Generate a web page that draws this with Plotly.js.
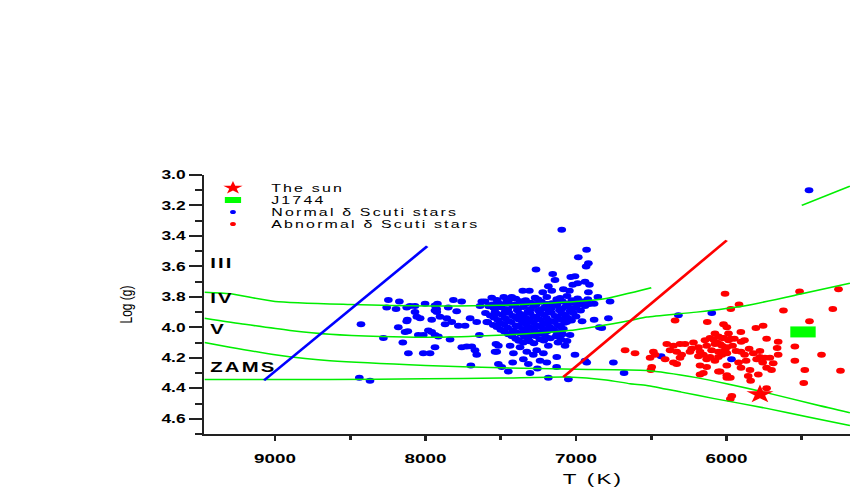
<!DOCTYPE html>
<html>
<head>
<meta charset="utf-8">
<script src="https://cdn.plot.ly/plotly-3.0.1.min.js"></script>
<style>
  html, body { margin: 0; padding: 0; background: #fff; overflow: hidden; width: 850px; height: 495px; }
  #wrap { width: 677px; height: 495px; transform: scaleX(1.45); transform-origin: 0 0; }
  .annotation-text { letter-spacing: 1.5px; }
  .xtitle { letter-spacing: 1.5px; }
</style>
</head>
<body>
<div id="wrap"><div id="chart"></div></div>
<script>
// ---- data (T in K, log g) ----
const normalStars = [
  [7095,3.36],[6930,3.49],[6985,3.54],[6918,3.58],[6933,3.60],[7266,3.62],[7155,3.65],[7140,3.69],
  [7035,3.67],[7007,3.665],[6940,3.70],[6989,3.71],[6911,3.72],[7184,3.73],[7161,3.76],[7354,3.76],
  [7310,3.76],[7221,3.77],[7084,3.75],[7044,3.76],[7022,3.72],[6918,3.77],[6855,3.80],[6774,3.83],
  [7427,3.80],[7460,3.82],[7626,3.83],[6880,3.95],[6785,3.94],[6845,4.00],[6829,4.005],
  [8247,3.82],[8174,3.83],[8103,3.86],[8070,3.86],[8003,3.845],[7937,3.856],[7921,3.845],[7815,3.82],
  [7760,3.83],[7605,3.83],[8258,3.87],[8196,3.88],[8125,3.87],[7926,3.88],[7849,3.87],[7793,3.895],
  [7638,3.86],[7937,3.89],[7925,3.90],[8070,3.90],[8058,3.93],[8036,3.94],[8121,3.95],[8125,3.96],
  [7959,3.95],[7904,3.93],[7859,3.94],[7826,3.965],[7870,3.98],[7782,3.99],[7737,3.99],[7704,3.94],
  [7660,3.965],[7593,3.965],[8181,4.00],[8136,4.03],[8118,4.025],[7981,4.02],[7959,4.03],[8015,4.05],
  [8048,4.05],[7937,4.05],[7915,4.06],[7837,4.08],[7642,4.05],[8429,3.98],[8280,4.07],[8151,4.10],
  [7937,4.13],[8114,4.17],[8015,4.17],[7970,4.17],[7759,4.13],[7726,4.125],[7693,4.125],[7671,4.15],
  [7660,4.18],[7699,4.25],[8440,4.33],[8369,4.35],[7549,3.87],[7538,3.90],
  [7538,4.16],[7532,4.11],[7516,4.24],[7494,4.26],[7450,4.29],[7421,4.23],[7317,4.24],[7306,4.30],
  [7257,4.27],[7184,4.33],[7129,4.26],[7007,4.18],[7051,4.34],[7438,4.12],[7372,4.13],[7327,4.16],
  [7261,4.15],[7217,4.17],[7416,4.17],[7350,4.21],[7284,4.18],[7239,4.22],[7194,4.23],[7128,4.195],
  [7184,4.12],[7073,4.12],[7040,4.05],[7128,4.05],[7217,4.01],[7062,3.965],[7084,4.01],[7516,4.12],
  [7527,4.16],[6929,4.23],
  [7560,3.805],[7480,3.80],[7400,3.812],[7272,3.805],[7194,3.80],[7106,3.808],[7060,3.795],[6990,3.81],
  [7520,3.835],[7450,3.84],[7370,3.828],[7300,3.838],[7230,3.832],[7160,3.842],[7090,3.83],[7020,3.838],
  [6960,3.83],[6880,3.845],[7580,3.862],[7500,3.868],[7420,3.858],[7350,3.866],[7280,3.86],[7210,3.87],
  [7140,3.858],[7070,3.865],[7000,3.872],[6940,3.86],[7470,3.895],[7390,3.888],[7320,3.898],[7250,3.89],
  [7180,3.896],[7110,3.888],[7040,3.894],[6970,3.89],[7570,3.922],[7490,3.918],[7420,3.926],[7350,3.92],
  [7280,3.928],[7210,3.918],[7140,3.925],[7070,3.92],[7000,3.928],[7520,3.952],[7450,3.958],[7380,3.948],
  [7310,3.955],[7240,3.95],[7170,3.958],[7100,3.948],[7030,3.955],[6960,3.96],[7550,3.985],[7480,3.98],
  [7400,3.988],[7330,3.982],[7260,3.99],[7190,3.98],[7120,3.986],[7500,4.015],[7420,4.02],[7350,4.012],
  [7280,4.018],[7150,4.015],[7450,4.045],[7370,4.04],[7300,4.048],[7230,4.042],[7090,4.045],[7400,4.075],
  [7320,4.07],[7240,4.078],[7170,4.072],[7100,4.08],[7350,4.10],[7280,4.105],[7120,4.10],
  [7525,3.82],[7442,3.815],[7335,3.822],[7252,3.818],[7128,3.816],[7028,3.822],[6922,3.815],
  [7556,3.85],[7478,3.846],[7407,3.852],[7333,3.845],[7266,3.851],[7193,3.846],[7127,3.853],[7054,3.847],
  [6986,3.852],[6912,3.846],[7541,3.877],[7454,3.881],[7386,3.874],[7302,3.879],[7233,3.883],[7166,3.876],
  [7094,3.88],[7021,3.875],[7602,3.905],[7526,3.91],[7446,3.904],[7373,3.911],[7306,3.906],[7238,3.91],
  [7164,3.904],[7092,3.911],[7019,3.906],[7546,3.936],[7471,3.941],[7398,3.935],[7331,3.94],[7263,3.936],
  [7196,3.941],[7124,3.934],[7052,3.94],[7586,3.967],[7504,3.971],[7431,3.965],[7356,3.97],[7284,3.966],
  [7217,3.972],[7146,3.965],[7076,3.969],[7526,3.997],[7454,4.002],[7381,3.996],[7309,4.0],[7236,3.995],
  [7171,4.001],[7101,3.997],[7476,4.028],[7399,4.032],[7331,4.027],[7259,4.031],[7191,4.026],[7121,4.03],
  [7426,4.058],[7344,4.062],[7271,4.057],[7201,4.062],[7131,4.058],[7381,4.088],[7309,4.092],[7214,4.087],
  [7060,4.09],
  [6435,4.19],[5967,4.21],[6320,3.92],[6098,3.905],[6752,4.23],[6681,4.30],[6940,4.22],[5452,3.10]
];
const abnormalStars = [
  [6010,3.78],[6342,3.955],[6128,3.965],[6020,3.98],[5998,4.00],[5987,4.04],
  [6674,4.15],[6608,4.17],[6486,4.16],[6475,4.18],[6508,4.20],[6497,4.26],[6503,4.28],[6408,4.21],
  [6397,4.11],[6353,4.12],[6309,4.11],[6375,4.15],[6331,4.16],[6298,4.18],[6309,4.20],[6353,4.23],
  [6331,4.24],[6276,4.11],[6220,4.10],[6187,4.13],[6232,4.14],[6243,4.16],[6176,4.16],[6187,4.19],
  [6143,4.085],[6110,4.07],[6088,4.08],[6054,4.06],[6020,4.07],[5987,4.085],[6132,4.12],[6077,4.11],
  [6043,4.11],[6099,4.15],[6054,4.16],[6010,4.15],[6154,4.18],[6132,4.21],[6077,4.22],[6054,4.195],
  [6176,4.25],[6132,4.26],[6054,4.29],[6154,4.30],[6176,4.31],[5998,4.25],[5998,4.33],
  [5515,3.765],[5256,3.75],[5917,3.85],[5972,3.88],[5622,3.89],[5294,3.88],[5449,3.96],
  [5757,3.99],[5805,4.005],[5905,4.03],[6030,4.07],[5975,4.075],[5948,4.075],[5881,4.085],[5903,4.095],
  [5734,4.075],[5657,4.095],[5664,4.135],[5546,4.125],[6030,4.12],[5998,4.13],[5937,4.155],[5904,4.16],
  [5998,4.17],[6030,4.18],[5822,4.17],[5778,4.155],[5778,4.195],[5745,4.20],[5712,4.20],[5800,4.21],
  [5657,4.18],[5690,4.235],[5870,4.22],[5904,4.265],[6043,4.29],[5844,4.28],[5734,4.265],[5701,4.28],
  [5789,4.31],[5856,4.32],[5998,4.315],[5975,4.33],[5840,4.35],[5734,4.40],
  [5546,4.22],[5480,4.28],[5369,4.18],[5243,4.285],[5487,4.365],[5965,4.45],[5975,4.47],
  [6077,4.04],[6110,4.195],[6065,4.10],[5960,4.12],[5880,4.18],[5850,4.14],[5920,4.23],[5760,4.23]
];
const sunT = [5778], sunLogg = [4.44];
const j1744T = [5492], j1744Logg = [4.03];

const trackIV_T = [9469, 9300, 9000, 8500, 8000, 7500, 7000, 6800, 6500];
const trackIV_g = [3.77, 3.78, 3.83, 3.85, 3.86, 3.855, 3.83, 3.81, 3.74];
const trackA_T = [9469, 9200, 8900, 8635, 8300, 7970, 7600, 7305, 7000, 6641, 6530, 6200, 5866, 5500, 5180];
const trackA_g = [3.94, 3.98, 4.02, 4.045, 4.06, 4.065, 4.055, 4.04, 4.015, 3.955, 3.932, 3.90, 3.856, 3.78, 3.71];
const trackB_T = [9469, 9300, 9000, 8800, 8635, 8000, 7500, 7000, 6530, 6200, 6000, 5730, 5400, 5180];
const trackB_g = [4.10, 4.13, 4.18, 4.205, 4.22, 4.25, 4.265, 4.275, 4.283, 4.33, 4.37, 4.43, 4.51, 4.56];
const zamsT = [9469, 8635, 8000, 7500, 7051, 6800, 6641, 6530, 6300, 6090, 5733, 5450, 5180];
const zamsG = [4.343, 4.343, 4.338, 4.333, 4.326, 4.345, 4.37, 4.381, 4.425, 4.466, 4.532, 4.59, 4.644];
const trackTop_T = [5500, 5180];
const trackTop_g = [3.20, 3.074];

const blueEdgeT = [9073, 7989], blueEdgeG = [4.348, 3.468];
const redEdgeT = [7084, 5999], redEdgeG = [4.326, 3.429];

const xTickVals = [9000, 8000, 7000, 6000];
const classLabels = ['III', 'IV', 'V', 'ZAMS'];
const legendLabels = ['The sun', 'J1744', 'Normal \u03b4 Scuti stars', 'Abnormal \u03b4 Scuti stars'];

// ---- styles ----
const GREEN = '#00ee00', BLUE = '#0000ff', RED = '#ff0000', JGREEN = '#00ff00';
const FONT = 'Arial, "Liberation Sans", sans-serif';

const traces = [];
traces.push({x: normalStars.map(p => p[0]), y: normalStars.map(p => p[1]), type: 'scatter', mode: 'markers',
  marker: {color: BLUE, size: 6}, hoverinfo: 'skip', showlegend: false});
traces.push({x: abnormalStars.map(p => p[0]), y: abnormalStars.map(p => p[1]), type: 'scatter', mode: 'markers',
  marker: {color: RED, size: 6}, hoverinfo: 'skip', showlegend: false});
[[trackIV_T, trackIV_g], [trackA_T, trackA_g], [trackB_T, trackB_g], [zamsT, zamsG], [trackTop_T, trackTop_g]]
  .forEach(([tx, ty]) => traces.push({x: tx, y: ty, type: 'scatter', mode: 'lines',
    line: {color: GREEN, width: 1.5, shape: 'spline', smoothing: 0.6}, hoverinfo: 'skip', showlegend: false}));
traces.push({x: blueEdgeT, y: blueEdgeG, type: 'scatter', mode: 'lines', line: {color: BLUE, width: 2.2}, showlegend: false});
traces.push({x: redEdgeT, y: redEdgeG, type: 'scatter', mode: 'lines', line: {color: RED, width: 2.2}, showlegend: false});
traces.push({x: sunT, y: sunLogg, type: 'scatter', mode: 'markers',
  marker: {symbol: 'star', color: RED, size: 14}, showlegend: false});
traces.push({x: j1744T, y: j1744Logg, type: 'scatter', mode: 'markers',
  marker: {symbol: 'line-ew', size: 12.5, color: JGREEN, line: {color: JGREEN, width: 11}}, showlegend: false});

// legend keys (drawn on a hidden 0..1 overlay)
const legX = 0.0367, legTextX = 0.0825;
const legY = [0.95, 0.9035, 0.857, 0.811];
const legMarkers = [
  {symbol: 'star', color: RED, size: 10},
  {symbol: 'line-ew', color: JGREEN, size: 8, line: {color: JGREEN, width: 6}},
  {symbol: 'circle', color: BLUE, size: 4},
  {symbol: 'circle', color: RED, size: 4}
];
legMarkers.forEach((m, i) => traces.push({x: [legX], y: [legY[i]], xaxis: 'x3', yaxis: 'y2', type: 'scatter',
  mode: 'markers', marker: m, hoverinfo: 'skip', showlegend: false}));

const annotations = [];
legendLabels.forEach((t, i) => annotations.push({text: t, xref: 'paper', yref: 'paper', x: legTextX, y: legY[i],
  xanchor: 'left', yanchor: 'middle', showarrow: false, font: {family: FONT, size: 11, color: '#000'}}));
const classY = [0.660, 0.525, 0.405, 0.259];
classLabels.forEach((t, i) => annotations.push({text: t, xref: 'paper', yref: 'paper', x: 0.0045, y: classY[i],
  xanchor: 'left', yanchor: 'middle', showarrow: false, font: {family: FONT, size: 14, weight: 'bold', color: '#000'}}));

const layout = {
  width: 677, height: 495,
  margin: {l: 141, r: 0, t: 175, b: 61, autoexpand: false},
  paper_bgcolor: '#fff', plot_bgcolor: '#fff',
  showlegend: false,
  xaxis: {
    range: [9469, 4305], showgrid: false, zeroline: false,
    showline: true, linecolor: '#222', linewidth: 2.2,
    ticks: 'outside', ticklen: 5, tickwidth: 2, tickcolor: '#222',
    tickmode: 'array', tickvals: xTickVals, tickformat: 'd', ticklabelstandoff: 6,
    minor: {ticks: 'outside', ticklen: 4, tickwidth: 2, tickcolor: '#222', tick0: 0, dtick: 500},
    tickfont: {family: FONT, size: 13, weight: 'bold', color: '#000'},
    title: {text: 'T (K)', font: {family: FONT, size: 15.5, color: '#000'}, standoff: 8}
  },
  xaxis2: {
    matches: 'x', overlaying: 'x', side: 'top', anchor: 'y',
    showgrid: false, zeroline: false, showline: true, linecolor: '#222', linewidth: 2.2,
    ticks: 'inside', ticklen: 5, tickwidth: 2, tickcolor: '#222', tick0: 0, dtick: 1000,
    minor: {ticks: 'inside', ticklen: 3, tickwidth: 2, tickcolor: '#222', dtick: 500},
    showticklabels: false
  },
  xaxis3: {overlaying: 'x', range: [0, 1], visible: false, fixedrange: true},
  yaxis: {
    range: [4.70, 3.0], showgrid: false, zeroline: false,
    showline: true, linecolor: '#222', linewidth: 1.6,
    ticks: 'outside', ticklen: 9, tickwidth: 2, tickcolor: '#222',
    tick0: 3.0, dtick: 0.2, tickformat: '.1f',
    minor: {ticks: 'outside', ticklen: 5, tickwidth: 2, tickcolor: '#222', dtick: 0.1},
    tickfont: {family: FONT, size: 12, weight: 'bold', color: '#000'},
    title: {text: 'Log (g)', font: {family: FONT, size: 12, color: '#000'}, standoff: 17}
  },
  yaxis2: {overlaying: 'y', range: [0, 1], visible: false, fixedrange: true},
  annotations: annotations
};

Plotly.newPlot('chart', traces, layout, {displayModeBar: false, staticPlot: true});
</script>
</body>
</html>
